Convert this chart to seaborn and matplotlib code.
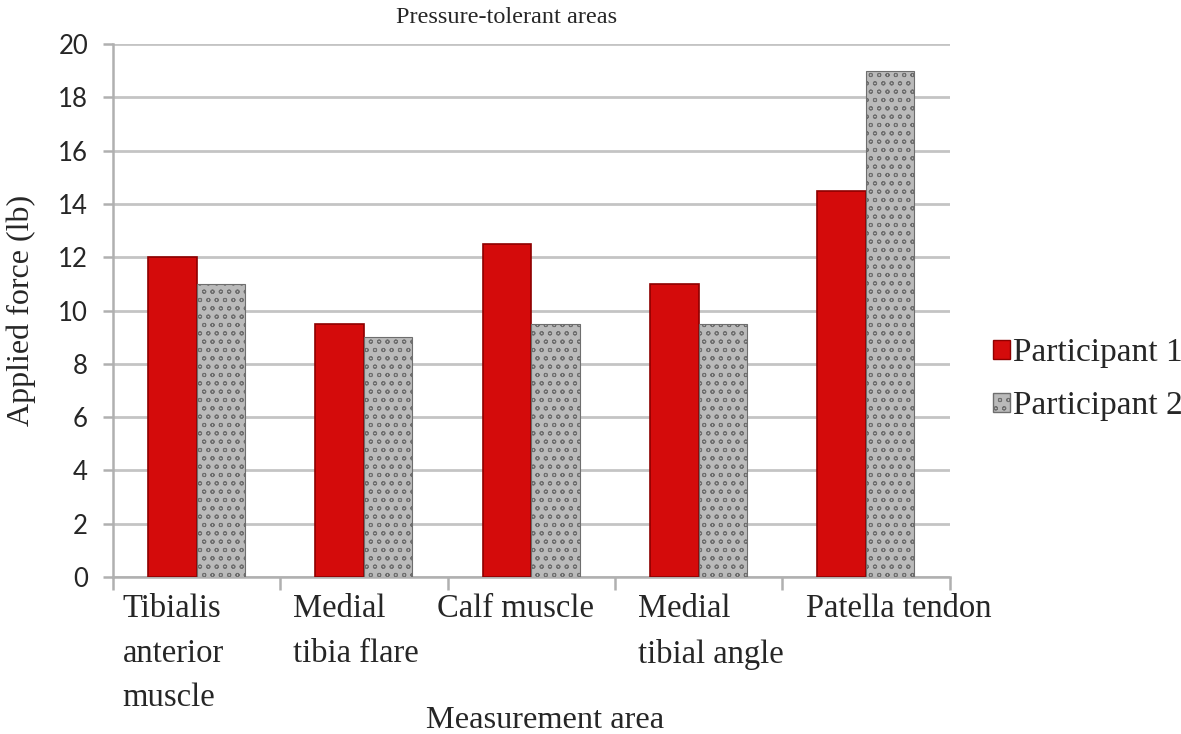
import numpy as np
import pandas as pd

import matplotlib
matplotlib.use("Agg")
import matplotlib.pyplot as plt
import matplotlib.transforms as mtransforms
import seaborn as sns

# ======================================================
# DATA
# ======================================================

areas = [
    "Tibialis\nanterior\nmuscle",
    "Medial\ntibia flare",
    "Calf muscle",
    "Medial\ntibial angle",
    "Patella tendon",
]
participant_1 = [12, 9.5, 12.5, 11, 14.5]
participant_2 = [11, 9, 9.5, 9.5, 19]
series_names = ["Participant 1", "Participant 2"]
y_ticks = [0, 2, 4, 6, 8, 10, 12, 14, 16, 18, 20]

df = pd.DataFrame({
    "area": areas * 2,
    "force": participant_1 + participant_2,
    "participant": [series_names[0]] * len(areas) + [series_names[1]] * len(areas),
})

# horizontal nudge of each category label (points), to mimic the original layout
label_shift = [-17, -6, -11, 9, 24]

# ======================================================
# STYLE
# ======================================================

sns.set_theme(style="white")
plt.rcParams["font.family"] = ["Liberation Serif", "DejaVu Serif"]
plt.rcParams["hatch.color"] = "#5a5a5a"
plt.rcParams["hatch.linewidth"] = 0.7

RED = "#d40b0b"
GRAY = "#bababa"
GRID = "#c4c4c4"

fig = plt.figure(figsize=(11.81, 7.34), dpi=100)
ax = fig.add_axes([0.0957, 0.2139, 0.7083, 0.7261])

sns.barplot(
    data=df,
    x="area",
    y="force",
    hue="participant",
    order=areas,
    hue_order=series_names,
    palette=[RED, GRAY],
    width=0.58,
    gap=0,
    saturation=1,
    ax=ax,
    legend=False,
)

# bar styling
n = len(areas)
for i, patch in enumerate(ax.patches[:2 * n]):
    if i < n:
        patch.set_edgecolor("#8e0000")
        patch.set_linewidth(1.2)
    else:
        patch.set_facecolor(GRAY)
        patch.set_edgecolor("#6e6e6e")
        patch.set_hatch("oo")
        patch.set_linewidth(0.8)
    patch.set_zorder(3)

# ======================================================
# AXES
# ======================================================

ax.set_xlim(-0.5, n - 0.5)
ax.set_ylim(0, 20)
ax.set_yticks(y_ticks)
ax.set_yticklabels([str(t) for t in y_ticks], family="Lato", fontsize=18.5)

ax.yaxis.grid(True, color=GRID, linewidth=2.0, zorder=0)
ax.set_axisbelow(True)

for side in ["top", "right"]:
    ax.spines[side].set_visible(False)
for side in ["left", "bottom"]:
    ax.spines[side].set_color("#b0b0b0")
    ax.spines[side].set_linewidth(1.8)

ax.tick_params(axis="y", left=True, length=7, width=1.8, color="#b0b0b0", pad=11)

ax.set_xticks(range(n))
ax.set_xticklabels(areas, fontsize=23.5, linespacing=1.6, va="top", ha="center",
                   multialignment="left")
ax.set_xticks(np.arange(-0.5, n, 1.0), minor=True)
ax.tick_params(axis="x", which="major", length=0, pad=12)
ax.tick_params(axis="x", which="minor", bottom=True, length=9, width=1.8, color="#b0b0b0")

for label, shift in zip(ax.get_xticklabels(), label_shift):
    offset = mtransforms.ScaledTranslation(shift / 72, 0, fig.dpi_scale_trans)
    label.set_transform(label.get_transform() + offset)

ax.set_xlabel("Measurement area", fontsize=23.3, labelpad=0)
ax.xaxis.set_label_coords(0.516, -0.242)
ax.set_ylabel("Applied force (lb)", fontsize=23, labelpad=16)
ax.set_title("Pressure-tolerant areas", fontsize=17.5, pad=15, x=0.47)

# ======================================================
# LEGEND
# ======================================================

handles = [
    plt.Rectangle((0, 0), 1, 1, facecolor=RED, edgecolor="#8e0000"),
    plt.Rectangle((0, 0), 1, 1, facecolor=GRAY, edgecolor="#6e6e6e", hatch="oo"),
]
fig.legend(
    handles,
    series_names,
    loc="center left",
    bbox_to_anchor=(0.841, 0.483),
    frameon=False,
    fontsize=24,
    handlelength=0.5,
    handleheight=0.5,
    handletextpad=0.08,
    labelspacing=0.66,
    borderaxespad=0,
    borderpad=0,
)

fig.savefig("out.png", dpi=100)
